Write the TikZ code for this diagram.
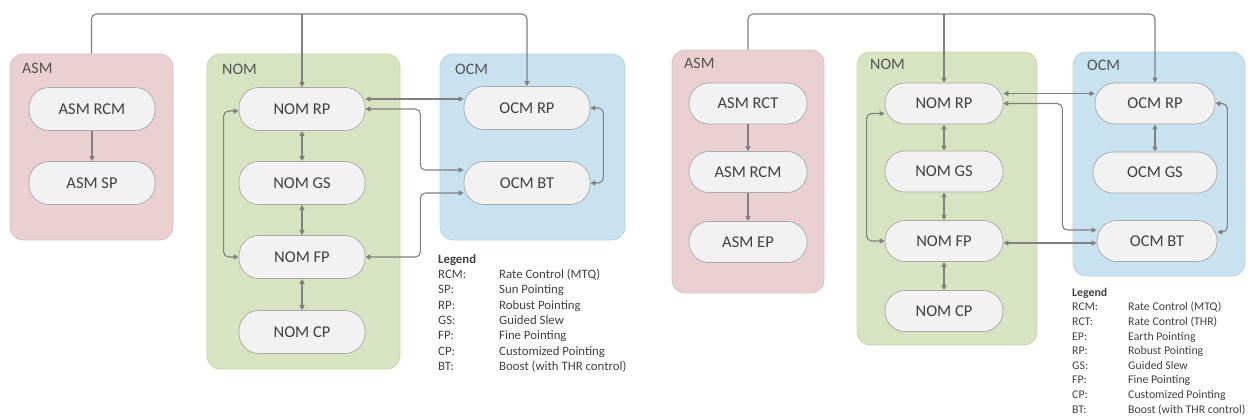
\documentclass[tikz,border=0pt]{standalone}
\usepackage{fontspec}
\setmainfont{Carlito}
\usetikzlibrary{arrows.meta}

\definecolor{asmfill}{RGB}{234,208,209}
\definecolor{asmline}{RGB}{219,192,193}
\definecolor{nomfill}{RGB}{215,228,193}
\definecolor{nomline}{RGB}{198,213,174}
\definecolor{ocmfill}{RGB}{201,226,240}
\definecolor{ocmline}{RGB}{180,209,227}
\definecolor{modefill}{RGB}{242,242,242}
\definecolor{modeline}{RGB}{168,168,168}
\definecolor{wiregray}{RGB}{128,128,128}
\definecolor{ink}{RGB}{64,64,64}

\begin{document}
\begin{tikzpicture}[x=1pt,y=-1pt,
  group/.style={draw=#1line, fill=#1fill, rounded corners=13pt, line width=0.8pt, inner sep=0pt},
  grouplabel/.style={anchor=mid west, inner sep=0pt, text=ink!90, font=\fontsize{16}{18}\selectfont},
  mode/.style={draw=modeline, fill=modefill, rounded corners=20pt, line width=0.7pt,
    minimum width=126pt, minimum height=43pt, inner sep=0pt, text=ink, font=\fontsize{16.5}{18}\selectfont},
  smallmode/.style={mode, minimum width=118pt, minimum height=41pt},
  link/.style={draw=wiregray, line width=1.1pt, rounded corners=5pt},
  both/.style={link, {Triangle[length=5pt,width=5pt]}-{Triangle[length=5pt,width=5pt]}},
  oneway/.style={link, -{Triangle[length=5pt,width=5pt]}},
  legkey/.style={anchor=mid west, inner sep=0pt, text=ink}]

\useasboundingbox (0,0) rectangle (1248,416);

% ---------------- first configuration ----------------
\node[group=asm, minimum width=163pt, minimum height=186pt] (lasm) at (91.5,147) {};
\node[group=nom, minimum width=193pt, minimum height=315pt] (lnom) at (303.5,211.5) {};
\node[group=ocm, minimum width=185pt, minimum height=186pt] (locm) at (532.5,147) {};
\node[grouplabel] (lasmlbl) at (22,71) {ASM};
\node[grouplabel] (lnomlbl) at (222,72) {NOM};
\node[grouplabel] (locmlbl) at (455,72) {OCM};

\node[mode] (lrcm) at (92,109) {ASM RCM};
\node[mode] (lsp)  at (92,183) {ASM SP};
\node[mode] (lnrp) at (302,109) {NOM RP};
\node[mode] (lngs) at (302,183) {NOM GS};
\node[mode] (lnfp) at (302,257) {NOM FP};
\node[mode] (lncp) at (302,332) {NOM CP};
\node[mode] (locmrp) at (527,108) {OCM RP};
\node[mode] (locmbt) at (527,183) {OCM BT};

\coordinate (ltop) at (0,14);
\draw[oneway] (lasm.north) |- (ltop -| locmrp.north) -- (locmrp.north);
\draw[oneway] (ltop -| lnrp.north) -- (lnrp.north);

\draw[oneway] (lrcm.south) -- (lsp.north);
\draw[both] (lnrp.south) -- (lngs.north);
\draw[both] (lngs.south) -- (lnfp.north);
\draw[both] (lnfp.south) -- (lncp.north);
\draw[both] ([yshift=-2pt]lnrp.west) -- ++(-15,0) |- (lnfp.west);
\draw[both] ([yshift=10pt]lnrp.east) -- ([yshift=10pt]lnrp.east -| locmrp.west);
\draw[both] (lnrp.east) -- ++(55,0) |- ([yshift=13pt]locmbt.west);
\draw[both] (lnfp.east) -- ++(55,0) |- ([yshift=-10pt]locmbt.west);
\draw[both] (locmrp.east) -- ++(13,0) |- (locmbt.east);

\begin{scope}[font=\fontsize{12.8}{15}\selectfont]
\node[legkey] (llegend) at (438,261) {\bfseries Legend};
\foreach \k/\d [count=\i] in {RCM:/Rate Control (MTQ), SP:/Sun Pointing, RP:/Robust Pointing,
    GS:/Guided Slew, FP:/Fine Pointing, CP:/Customized Pointing, BT:/Boost (with THR control)} {
  \node[legkey] (lkey\i) at (438,261+15.3*\i) {\k};
  \node[legkey] (ltxt\i) at (499,261+15.3*\i) {\d};
}
\end{scope}

% ---------------- second configuration ----------------
\node[group=asm, minimum width=152pt, minimum height=243pt] (rasm) at (748,171.5) {};
\node[group=nom, minimum width=180pt, minimum height=293pt] (rnom) at (947,198.5) {};
\node[group=ocm, minimum width=172pt, minimum height=224pt] (rocm) at (1159,164) {};
\node[grouplabel] (rasmlbl) at (684,66) {ASM};
\node[grouplabel] (rnomlbl) at (870,67) {NOM};
\node[grouplabel] (rocmlbl) at (1087,68) {OCM};

\node[smallmode] (rrct) at (748,103.5) {ASM RCT};
\node[smallmode] (rrcm) at (748,172) {ASM RCM};
\node[smallmode] (rep)  at (748,242) {ASM EP};
\node[smallmode] (rnrp) at (944,103.5) {NOM RP};
\node[smallmode] (rngs) at (944,171.5) {NOM GS};
\node[smallmode] (rnfp) at (944,241) {NOM FP};
\node[smallmode] (rncp) at (944,311) {NOM CP};
\node[smallmode, minimum width=120pt] (rocmrp) at (1155,103.5) {OCM RP};
\node[smallmode, minimum width=124pt] (rocmgs) at (1155,172.5) {OCM GS};
\node[smallmode, minimum width=120pt] (rocmbt) at (1157,241) {OCM BT};

\coordinate (rtop) at (0,14);
\draw[oneway] (rasm.north) |- (rtop -| rocmrp.north) -- (rocmrp.north);
\draw[oneway] (rtop -| rnrp.north) -- (rnrp.north);

\draw[oneway] (rrct.south) -- (rrcm.north);
\draw[oneway] (rrcm.south) -- (rep.north);
\draw[both] (rnrp.south) -- (rngs.north);
\draw[both] (rngs.south) -- (rnfp.north);
\draw[both] (rnfp.south) -- (rncp.north);
\draw[both] (rocmrp.south) -- (rocmgs.north);
\draw[both] ([yshift=-10pt]rnrp.west) -- ++(-18,0) |- (rnfp.west);
\draw[both] ([yshift=10pt]rnrp.east) -- ([yshift=10pt]rnrp.east -| rocmrp.west);
\draw[both] (rnrp.east) -- ++(59,0) |- ([yshift=11pt]rocmbt.west);
\draw[both] ([yshift=-2pt]rnfp.east) -- ([yshift=-2pt]rnfp.east -| rocmbt.west);
\draw[both] (rocmrp.east) -- ++(12,0) |- ([yshift=9pt]rocmbt.east);

\begin{scope}[font=\fontsize{11.8}{14}\selectfont]
\node[legkey] (rlegend) at (1072,294) {\bfseries Legend};
\foreach \k/\d [count=\i] in {RCM:/Rate Control (MTQ), RCT:/Rate Control (THR), EP:/Earth Pointing,
    RP:/Robust Pointing, GS:/Guided Slew, FP:/Fine Pointing, CP:/Customized Pointing,
    BT:/Boost (with THR control)} {
  \node[legkey] (rkey\i) at (1072,294+14.6*\i) {\k};
  \node[legkey] (rtxt\i) at (1128,294+14.6*\i) {\d};
}
\end{scope}

\end{tikzpicture}
\end{document}
